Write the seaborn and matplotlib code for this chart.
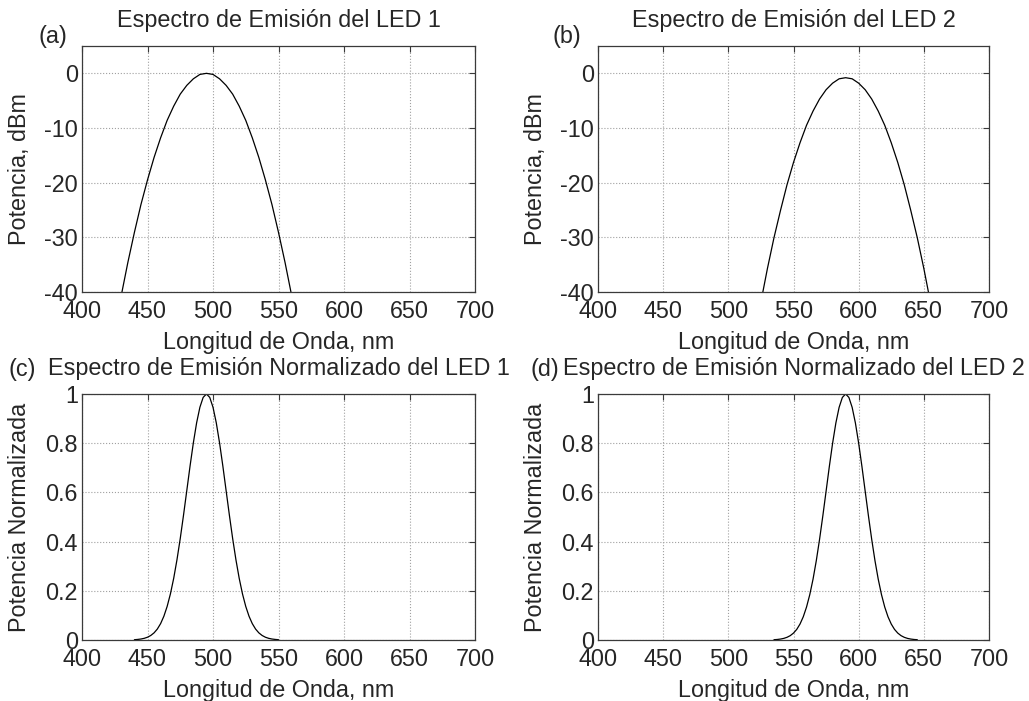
import matplotlib
matplotlib.use("Agg")
import matplotlib.pyplot as plt
import seaborn as sns

# LED 1 spectrum in dBm
wl_led1_dbm = [430, 435, 440, 445, 450, 455, 460, 465, 470, 475, 480, 485, 490, 495,
               500, 505, 510, 515, 520, 525, 530, 535, 540, 545, 550, 555, 560]
p_led1_dbm = [-40.6, -34.6, -29.1, -24.0, -19.5, -15.4, -11.8, -8.6, -6.0, -3.8, -2.2, -1.0, -0.2, 0.0,
              -0.2, -1.0, -2.2, -3.8, -6.0, -8.6, -11.8, -15.4, -19.5, -24.0, -29.1, -34.6, -40.6]

# LED 2 spectrum in dBm
wl_led2_dbm = [525, 530, 535, 540, 545, 550, 555, 560, 565, 570, 575, 580, 585, 590,
               595, 600, 605, 610, 615, 620, 625, 630, 635, 640, 645, 650, 655]
p_led2_dbm = [-41.8, -35.7, -30.1, -25.1, -20.4, -16.3, -12.7, -9.5, -6.9, -4.7, -3.0, -1.8, -1.0, -0.8,
              -1.0, -1.8, -3.0, -4.7, -6.9, -9.5, -12.7, -16.3, -20.4, -25.1, -30.1, -35.7, -41.8]

# normalized spectra, panels (c) and (d)
wl_led1_norm = [440, 442.5, 445, 447.5, 450, 452.5, 455, 457.5, 460, 462.5, 465, 467.5, 470,
                472.5, 475, 477.5, 480, 482.5, 485, 487.5, 490, 492.5, 495, 497.5, 500, 502.5,
                505, 507.5, 510, 512.5, 515, 517.5, 520, 522.5, 525, 527.5, 530, 532.5, 535,
                537.5, 540, 542.5, 545, 547.5, 550]
p_led1_norm = [0.0012, 0.0023, 0.0040, 0.0068, 0.0113, 0.0184, 0.0290, 0.0445, 0.0665, 0.0966,
               0.1365, 0.1876, 0.2508, 0.3263, 0.4126, 0.5077, 0.6076, 0.7078, 0.8014, 0.8830,
               0.9462, 0.9863, 1.0, 0.9863, 0.9462, 0.8830, 0.8014, 0.7078, 0.6076, 0.5077,
               0.4126, 0.3263, 0.2508, 0.1876, 0.1365, 0.0966, 0.0665, 0.0445, 0.0290, 0.0184,
               0.0113, 0.0068, 0.0040, 0.0023, 0.0012]

wl_led2_norm = [535, 537.5, 540, 542.5, 545, 547.5, 550, 552.5, 555, 557.5, 560, 562.5, 565,
                567.5, 570, 572.5, 575, 577.5, 580, 582.5, 585, 587.5, 590, 592.5, 595, 597.5,
                600, 602.5, 605, 607.5, 610, 612.5, 615, 617.5, 620, 622.5, 625, 627.5, 630,
                632.5, 635, 637.5, 640, 642.5, 645]
p_led2_norm = [0.0012, 0.0021, 0.0038, 0.0065, 0.0109, 0.0177, 0.0281, 0.0432, 0.0649, 0.0945,
               0.1340, 0.1847, 0.2475, 0.3228, 0.4093, 0.5045, 0.6047, 0.7055, 0.7998, 0.8820,
               0.9457, 0.9861, 1.0, 0.9861, 0.9457, 0.8820, 0.7998, 0.7055, 0.6047, 0.5045,
               0.4093, 0.3228, 0.2475, 0.1847, 0.1340, 0.0945, 0.0649, 0.0432, 0.0281, 0.0177,
               0.0109, 0.0065, 0.0038, 0.0021, 0.0012]

x_ticks = [400, 450, 500, 550, 600, 650, 700]
dbm_ticks = [-40, -30, -20, -10, 0]
norm_ticks = [0, 0.2, 0.4, 0.6, 0.8, 1]
norm_tick_labels = ["0", "0.2", "0.4", "0.6", "0.8", "1"]

FS = 16.8

sns.set_style("white")
plt.rcParams['font.family'] = ['Liberation Sans', 'DejaVu Sans']
plt.rcParams['font.size'] = FS
plt.rcParams['axes.unicode_minus'] = False

W, H = 1029, 701
fig = plt.figure(figsize=(W / 100, H / 100), dpi=100)


def make_axes(left, top, right, bottom):
    # pixel box -> figure fraction
    return fig.add_axes([left / W, 1 - bottom / H, (right - left) / W, (bottom - top) / H])


def style_axes(ax, title, ylabel):
    ax.set_xlim(400, 700)
    ax.set_xticks(x_ticks)
    ax.grid(True, linestyle=':', color='#a0a0a0', linewidth=0.8)
    for s in ax.spines.values():
        s.set_color('#3a3a3a')
        s.set_linewidth(0.9)
    ax.tick_params(direction='in', length=4, width=0.8, color='#3a3a3a',
                   top=True, right=True, labelsize=FS)
    ax.tick_params(axis='x', pad=6)
    ax.tick_params(axis='y', pad=3)
    ax.set_xlabel("Longitud de Onda, nm", fontsize=FS)
    ax.set_ylabel(ylabel, fontsize=FS)
    ax.xaxis.set_label_coords(0.5, -0.205)
    ax.xaxis.label.set_va('center')
    ax.yaxis.set_label_coords(-0.16, 0.5)
    ax.yaxis.label.set_va('center')
    ax.set_title(title, fontsize=FS, y=1 + 25 / 246, va='center', pad=0)


ax_a = make_axes(82, 46, 475, 292)
ax_b = make_axes(598, 46, 989, 292)
ax_c = make_axes(82, 394, 475, 640)
ax_d = make_axes(598, 394, 989, 640)

sns.lineplot(x=wl_led1_dbm, y=p_led1_dbm, ax=ax_a, color='black', linewidth=0.9)
sns.lineplot(x=wl_led2_dbm, y=p_led2_dbm, ax=ax_b, color='black', linewidth=0.9)
sns.lineplot(x=wl_led1_norm, y=p_led1_norm, ax=ax_c, color='black', linewidth=0.9)
sns.lineplot(x=wl_led2_norm, y=p_led2_norm, ax=ax_d, color='black', linewidth=0.9)

for ax, title in [(ax_a, "Espectro de Emisión del LED 1"), (ax_b, "Espectro de Emisión del LED 2")]:
    ax.set_ylim(-40, 5)
    ax.set_yticks(dbm_ticks)
    style_axes(ax, title, "Potencia, dBm")

for ax, title in [(ax_c, "Espectro de Emisión Normalizado del LED 1"),
                  (ax_d, "Espectro de Emisión Normalizado del LED 2")]:
    ax.set_ylim(0, 1)
    ax.set_yticks(norm_ticks)
    ax.set_yticklabels(norm_tick_labels)
    style_axes(ax, title, "Potencia Normalizada")

# panel letters
fig.text(38 / W, 1 - 37 / H, "(a)", fontsize=FS, va='center', ha='left')
fig.text(553 / W, 1 - 37 / H, "(b)", fontsize=FS, va='center', ha='left')
fig.text(8 / W, 1 - 370 / H, "(c)", fontsize=FS, va='center', ha='left')
fig.text(530 / W, 1 - 370 / H, "(d)", fontsize=FS, va='center', ha='left')

fig.savefig("out.png", dpi=100)
